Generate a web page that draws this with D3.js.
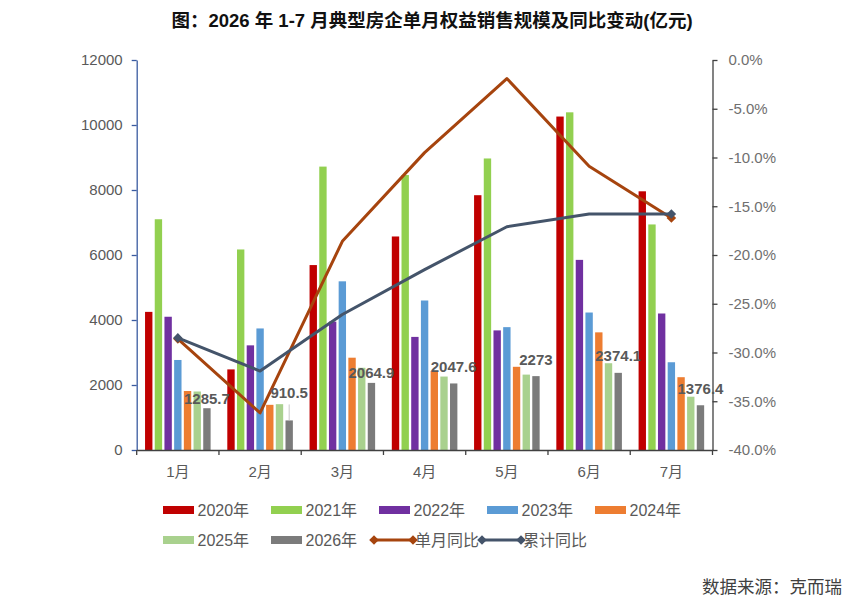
<!DOCTYPE html>
<html><head><meta charset="utf-8">
<script src="https://cdn.jsdelivr.net/npm/d3@7"></script>
<style>
body{margin:0;background:#fff}
text{font-family:"Liberation Sans","Noto Sans CJK SC",sans-serif}
</style>
</head><body>
<svg id="c" width="859" height="607"></svg>
<script>
// ---------- data ----------
const months = ["1月","2月","3月","4月","5月","6月","7月"];
const years = ["2020年","2021年","2022年","2023年","2024年","2025年","2026年"];
const sales2020 = [4250,2480,5690,6570,7840,10260,7960];
const sales2021 = [7100,6170,8720,8460,8970,10390,6940];
const sales2022 = [4100,3220,3950,3480,3680,5850,4200];
const sales2023 = [2770,3740,5190,4600,3780,4230,2700];
const sales2024 = [1815,1390,2840,2430,2560,3620,2240];
const sales2025 = [1800,1410,2530,2260,2320,2670,1640];
const sales2026 = [1285.7,910.5,2064.9,2047.6,2273,2374.1,1376.4];
const monthlyYoY = [-28.6,-36.2,-18.6,-9.5,-1.9,-10.9,-16.2];
const cumulativeYoY = [-28.5,-31.9,-26.1,-21.5,-17.1,-15.8,-15.8];
const leftTicks = [0,2000,4000,6000,8000,10000,12000];
const rightTicks = [0,-5,-10,-15,-20,-25,-30,-35,-40];
const lineNames = ["单月同比","累计同比"];

// ---------- styles ----------
const barColors = ["#C00000","#92D050","#7030A0","#5B9BD5","#ED7D31","#A9D18E","#7B7B7B"];
const lineColors = ["#A6440E","#44546A"];
const labelNudge = [7,-11,7,0,0,0,0];
const series = [sales2020,sales2021,sales2022,sales2023,sales2024,sales2025,sales2026];

const svg = d3.select("#c");
const L = 136.7, R = 712.5, T = 60, B = 450;

const x = d3.scaleBand().domain(months).range([L,R]).padding(0);
const xi = d3.scaleBand().domain(years).range([0,x.bandwidth()]).paddingInner(0.24).paddingOuter(0.86);
const yL = d3.scaleLinear().domain([0,12000]).range([B,T]);
const yR = d3.scaleLinear().domain([-40,0]).range([B,T]);
const cx = m => x(m) + x.bandwidth()/2;

// title
svg.append("text").attr("x",432).attr("y",27).attr("text-anchor","middle")
  .attr("font-size","18.5px").attr("font-weight","bold").attr("fill","#111")
  .text("图：2026 年 1-7 月典型房企单月权益销售规模及同比变动(亿元)");

// bars
series.forEach((s,si)=>{
  svg.append("g").selectAll("rect").data(s).join("rect")
    .attr("x",(d,i)=>x(months[i])+xi(years[si]))
    .attr("width",xi.bandwidth())
    .attr("y",d=>yL(d))
    .attr("height",d=>B-yL(d))
    .attr("fill",barColors[si]);
});

// left axis
const ax = svg.append("g").attr("transform",`translate(${L},0)`)
  .call(d3.axisLeft(yL).tickValues(leftTicks).tickSize(5).tickSizeOuter(0).tickPadding(9).tickFormat(d3.format("d")));
ax.select(".domain").attr("stroke","#3A5BA0").attr("stroke-width",1.3);
ax.selectAll(".tick line").attr("stroke","#3A5BA0").attr("stroke-width",1.3);
ax.selectAll(".tick text").attr("font-size","15px").attr("fill","#595959");

// right axis
const ar = svg.append("g").attr("transform",`translate(${R},0)`)
  .call(d3.axisRight(yR).tickValues(rightTicks).tickSize(5).tickSizeOuter(0).tickPadding(11).tickFormat(d=>d.toFixed(1)+"%"));
ar.select(".domain").attr("stroke","#404040").attr("stroke-width",1.3);
ar.selectAll(".tick line").attr("stroke","#404040").attr("stroke-width",1.3);
ar.selectAll(".tick text").attr("font-size","15px").attr("fill","#6f6f6f");

// bottom axis
const ab = svg.append("g").attr("transform",`translate(0,${B})`)
  .call(d3.axisBottom(x).tickSize(0).tickPadding(16));
ab.select(".domain").attr("stroke","#404040").attr("stroke-width",1.3);
ab.selectAll(".tick text").attr("font-size","15px").attr("fill","#595959");
svg.append("g").selectAll("line").data(months.map(m=>x(m)).concat([R])).join("line")
  .attr("x1",d=>d).attr("x2",d=>d).attr("y1",B).attr("y2",B+5)
  .attr("stroke","#404040").attr("stroke-width",1.3);

// lines
const lineGen = d3.line().x((d,i)=>cx(months[i])).y(d=>yR(d));
const diamond = d3.symbol(d3.symbolSquare,46);
[monthlyYoY,cumulativeYoY].forEach((s,li)=>{
  svg.append("path").datum(s).attr("d",lineGen).attr("fill","none")
    .attr("stroke",lineColors[li]).attr("stroke-width",3).attr("stroke-linejoin","round");
  const ends = [0,s.length-1];
  svg.append("g").selectAll("path").data(ends).join("path")
    .attr("d",diamond)
    .attr("transform",i=>`translate(${cx(months[i])},${yR(s[i])}) rotate(45)`)
    .attr("fill",lineColors[li]);
});

// data labels for 2026
sales2026.forEach((v,i)=>{
  const bx = x(months[i]) + xi(years[6]) + xi.bandwidth()/2;
  const top = yL(v);
  const centerY = top - 17 + labelNudge[i];
  if (labelNudge[i] < -5) {
    svg.append("line").attr("x1",bx).attr("x2",bx).attr("y1",centerY+12).attr("y2",top)
      .attr("stroke","#c8c8c8").attr("stroke-width",1);
  }
  svg.append("text").attr("x",bx).attr("y",centerY+5.5).attr("text-anchor","middle")
    .attr("font-size","15px").attr("font-weight","bold").attr("fill","#595959")
    .text(d3.format("")(v));
});

// legend
const leg = svg.append("g");
const barLegendPos = [[163,510],[271,510],[379,510],[487,510],[595,510],[163,540],[271,540]];
years.forEach((yname,i)=>{
  const [lx,ly] = barLegendPos[i];
  leg.append("rect").attr("x",lx).attr("y",ly-4).attr("width",31).attr("height",8).attr("fill",barColors[i]);
  leg.append("text").attr("x",lx+34.5).attr("y",ly).attr("dy","0.36em")
    .attr("font-size","16px").attr("fill","#595959").text(yname);
});
const lineLegendPos = [[374,540],[482,540]];
lineNames.forEach((n,i)=>{
  const [lx,ly] = lineLegendPos[i];
  leg.append("line").attr("x1",lx).attr("x2",lx+39).attr("y1",ly).attr("y2",ly)
    .attr("stroke",lineColors[i]).attr("stroke-width",3);
  [lx,lx+39].forEach(px=>{
    leg.append("path").attr("d",diamond).attr("transform",`translate(${px},${ly}) rotate(45)`).attr("fill",lineColors[i]);
  });
  leg.append("text").attr("x",lx+41).attr("y",ly).attr("dy","0.36em")
    .attr("font-size","16px").attr("fill","#595959").text(n);
});

// source
svg.append("text").attr("x",842).attr("y",593).attr("text-anchor","end")
  .attr("font-size","17.5px").attr("fill","#404040").text("数据来源：克而瑞");
</script>
</body></html>
